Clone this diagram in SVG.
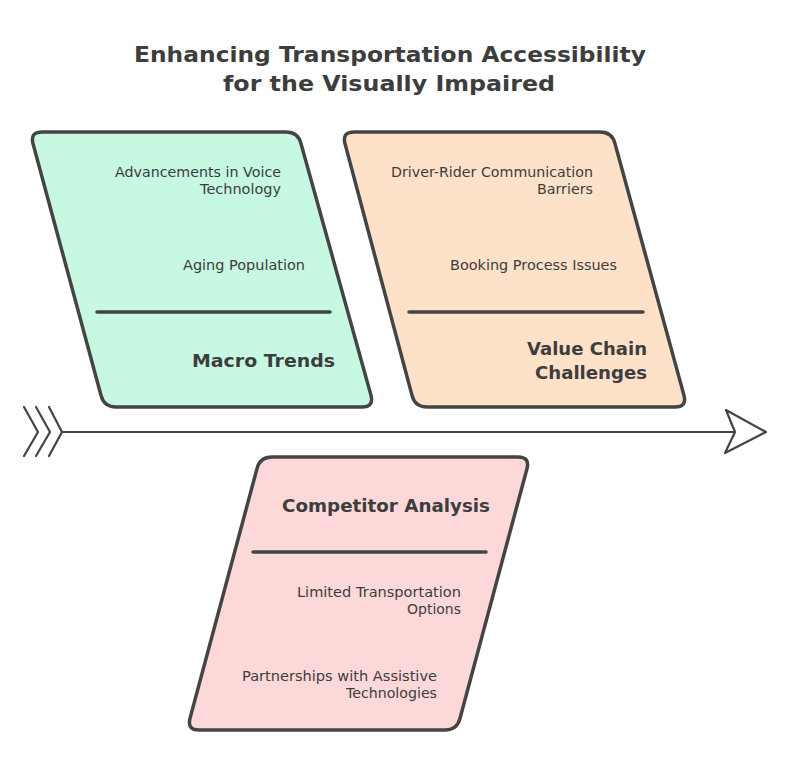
<svg xmlns="http://www.w3.org/2000/svg" width="790" height="781" viewBox="0 0 790 781">
<style>
.t{font-family:"DejaVu Sans","Liberation Sans",sans-serif;fill:#3d3d3d}
.title{font-size:22px;font-weight:bold;text-anchor:middle}
.item{font-size:14px;text-anchor:end}
.head{font-size:18px;font-weight:bold;text-anchor:end}
.box{stroke:#444;stroke-width:3.5;stroke-linejoin:round}
.div{stroke:#444;stroke-width:3.5;stroke-linecap:round}
.ln{fill:none;stroke:#444;stroke-width:2.2;stroke-linecap:round;stroke-linejoin:round}
</style>
<rect width="790" height="781" fill="#fff"/>
<g id="title">
<text class="t title" x="390" y="62" textLength="512" lengthAdjust="spacingAndGlyphs">Enhancing Transportation Accessibility</text>
<text class="t title" x="389" y="91" textLength="332" lengthAdjust="spacingAndGlyphs">for the Visually Impaired</text>
</g>
<g id="connectors">
<path class="ln" d="M62,432 L734,432"/>
<path class="ln" d="M24,407 L38,432 L24,456 M36,407 L50,432 L36,456 M49,407 L62,432 L49,456"/>
<path class="ln" d="M726,410 L766,432 L725,453 L735,432 Z" fill="#fff"/>
</g>
<g id="macro-trends">
<path class="box" fill="#c6f8e2" d="M42,132 L286,132 Q298,132 301,143.6 L371,395.4 Q374,407 362,407 L116,407 Q104,407 101,395.4 L33,143.6 Q30,132 42,132 Z"/>
<line class="div" x1="97" y1="312" x2="330" y2="312"/>
<text class="t item" x="281" y="177" textLength="166" lengthAdjust="spacingAndGlyphs">Advancements in Voice</text>
<text class="t item" x="281" y="194" textLength="81" lengthAdjust="spacingAndGlyphs">Technology</text>
<text class="t item" x="305" y="270" textLength="122" lengthAdjust="spacingAndGlyphs">Aging Population</text>
<text class="t head" x="335" y="367" textLength="143" lengthAdjust="spacingAndGlyphs">Macro Trends</text>
</g>
<g id="value-chain">
<path class="box" fill="#fee1c9" d="M354,132 L600,132 Q612,132 615,143.6 L684,395.4 Q687,407 675,407 L427,407 Q415,407 412,395.4 L345,143.6 Q342,132 354,132 Z"/>
<line class="div" x1="409" y1="312" x2="643" y2="312"/>
<text class="t item" x="593" y="177" textLength="202" lengthAdjust="spacingAndGlyphs">Driver-Rider Communication</text>
<text class="t item" x="593" y="194" textLength="56" lengthAdjust="spacingAndGlyphs">Barriers</text>
<text class="t item" x="617" y="270" textLength="167" lengthAdjust="spacingAndGlyphs">Booking Process Issues</text>
<text class="t head" x="647" y="355" textLength="120" lengthAdjust="spacingAndGlyphs">Value Chain</text>
<text class="t head" x="647" y="379" textLength="112" lengthAdjust="spacingAndGlyphs">Challenges</text>
</g>
<g id="competitor-analysis">
<path class="box" fill="#fdd8d8" d="M272,457 L518,457 Q530,457 527,468.6 L460,718.4 Q457,730 445,730 L199,730 Q187,730 190,718.4 L257,468.6 Q260,457 272,457 Z"/>
<line class="div" x1="253" y1="552" x2="486" y2="552"/>
<text class="t head" x="490" y="512" textLength="208" lengthAdjust="spacingAndGlyphs">Competitor Analysis</text>
<text class="t item" x="461" y="597" textLength="164" lengthAdjust="spacingAndGlyphs">Limited Transportation</text>
<text class="t item" x="461" y="614" textLength="54" lengthAdjust="spacingAndGlyphs">Options</text>
<text class="t item" x="437" y="681" textLength="195" lengthAdjust="spacingAndGlyphs">Partnerships with Assistive</text>
<text class="t item" x="437" y="698" textLength="91" lengthAdjust="spacingAndGlyphs">Technologies</text>
</g>
</svg>
